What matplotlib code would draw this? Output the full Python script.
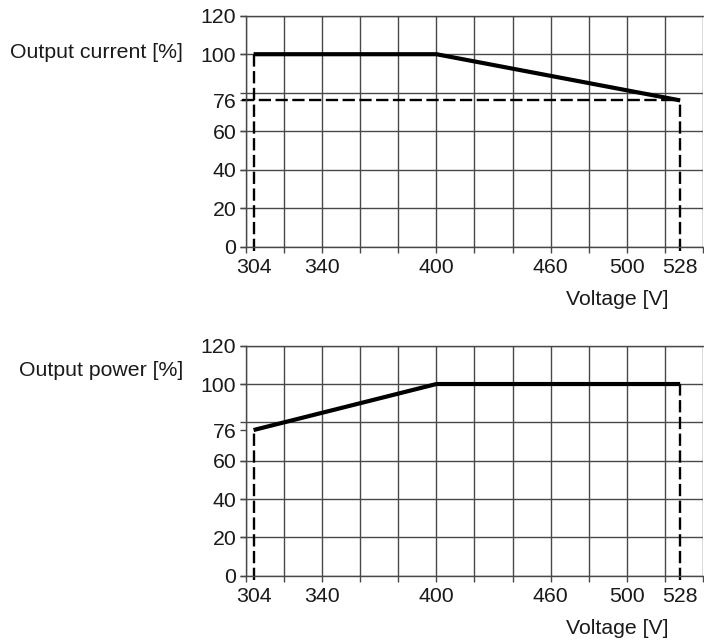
import matplotlib.pyplot as plt
import numpy as np

plt.rcParams['font.family'] = ['Liberation Sans', 'DejaVu Sans']

# data
voltage = [304, 400, 528]
current = [100, 100, 76]
power = [76, 100, 100]

x_ticks = [304, 340, 400, 460, 500, 528]
y_ticks = [0, 20, 40, 60, 76, 100, 120]
grid_x = np.arange(300, 541, 20)
grid_y = np.arange(0, 121, 20)

FS = 15.3
GRID_C = '#484848'
TXT_C = '#1a1a1a'


def setup(ax, ylabel, ylabel_y):
    ax.set_xlim(300, 540)
    ax.set_ylim(0, 120)
    ax.xaxis.remove_overlapping_locs = False
    ax.yaxis.remove_overlapping_locs = False
    ax.set_xticks(x_ticks)
    ax.set_xticklabels([str(v) for v in x_ticks])
    ax.set_yticks(y_ticks)
    ax.set_yticklabels([str(v) for v in y_ticks])
    ax.set_xticks(grid_x, minor=True)
    ax.set_yticks(grid_y, minor=True)
    ax.tick_params(which='major', labelsize=FS, labelcolor=TXT_C, length=0, pad=8)
    ax.tick_params(axis='y', which='major', length=4, width=1, color=GRID_C, pad=3)
    ax.tick_params(which='minor', length=4, width=1, color=GRID_C, direction='out')
    ax.grid(which='minor', color=GRID_C, lw=1)
    for s in ['left', 'bottom', 'top']:
        ax.spines[s].set_color(GRID_C)
        ax.spines[s].set_linewidth(1)
    ax.spines['right'].set_visible(False)
    ax.annotate(ylabel, xy=(183 / 704, ylabel_y), xycoords=('figure fraction', 'data'),
                ha='right', va='center', fontsize=FS, color=TXT_C)
    ax.annotate('Voltage [V]', xy=(668 / 704, 0), xycoords=('figure fraction', 'axes fraction'),
                xytext=(0, -53), textcoords='offset pixels',
                ha='right', va='center', fontsize=FS, color=TXT_C)


fig = plt.figure(figsize=(7.04, 6.44), dpi=100)
ax1 = fig.add_axes([0.3494, 0.6169, 0.6492, 0.3587])
ax2 = fig.add_axes([0.3494, 0.1061, 0.6492, 0.3571])

dash = dict(color='black', lw=1.7, dashes=(5.2, 1.9), clip_on=False)

# output current
setup(ax1, 'Output current [%]', 101)
ax1.plot([voltage[0], voltage[0]], [-2, current[0]], **dash)
ax1.plot([298, voltage[-1]], [current[-1], current[-1]], **dash)
ax1.plot([voltage[-1], voltage[-1]], [-2, current[-1]], **dash)
ax1.plot(voltage, current, color='black', lw=3, solid_capstyle='butt', zorder=5)

# output power
setup(ax2, 'Output power [%]', 107)
ax2.plot([voltage[0], voltage[0]], [-2, power[0]], **dash)
ax2.plot([voltage[-1], voltage[-1]], [-2, power[-1]], **dash)
ax2.plot(voltage, power, color='black', lw=3, solid_capstyle='butt', zorder=5)

fig.savefig('out.png', dpi=100)
